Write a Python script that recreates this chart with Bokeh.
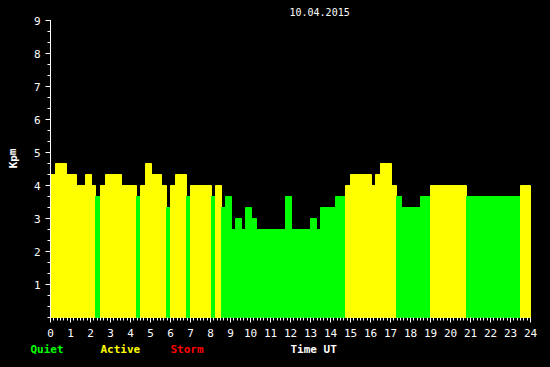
from bokeh.plotting import figure
from bokeh.models import FixedTicker, Label, Range1d, LinearAxis
from bokeh.embed import file_html
from bokeh.resources import INLINE

# Start time (hours UT) of each interval and its Kpm value; last edge closes the day
starts = [0.00, 0.25, 0.80, 1.30, 1.75, 2.05, 2.25, 2.50, 2.75, 3.55,
          4.30, 4.50, 4.75, 5.05, 5.55, 5.80, 6.00, 6.25, 6.80, 7.00,
          8.05, 8.25, 8.55, 8.75, 9.05, 9.25, 9.55, 9.75, 10.05, 10.30,
          11.75, 12.05, 13.00, 13.30, 13.50, 14.25, 14.75, 15.00, 16.05, 16.25,
          16.50, 17.05, 17.30, 17.55, 18.50, 19.00, 20.80, 23.50]
end_time = 24.0
kpm = [4.333, 4.667, 4.333, 4.0, 4.333, 4.0, 3.667, 4.0, 4.333, 4.0,
       3.667, 4.0, 4.667, 4.333, 4.0, 3.333, 4.0, 4.333, 3.667, 4.0,
       3.667, 4.0, 3.333, 3.667, 2.667, 3.0, 2.667, 3.333, 3.0, 2.667,
       3.667, 2.667, 3.0, 2.667, 3.333, 3.667, 4.0, 4.333, 4.0, 4.333,
       4.667, 4.0, 3.667, 3.333, 3.667, 4.0, 3.667, 4.0]
x_ticks = list(range(0, 25))
y_ticks = list(range(1, 10))
title_text = "10.04.2015"
legend_names = ["Quiet", "Active", "Storm"]

QUIET, ACTIVE, STORM = "#00ff00", "#ffff00", "#ff0000"

lefts = starts
rights = starts[1:] + [end_time]
colors = [QUIET if v < 4 else (ACTIVE if v < 5 else STORM) for v in kpm]

# the frame spans the whole canvas; axes are pinned at x=0 / y=0
p = figure(width=550, height=367, output_backend="svg", toolbar_location=None,
           x_range=Range1d(-2.5, 25), y_range=Range1d(-50 / 33, 317 / 33),
           x_axis_location=None, y_axis_location=None,
           min_border=0)
p.background_fill_color = "black"
p.border_fill_color = "black"
p.outline_line_color = None
p.grid.visible = False
p.styles = {"background-color": "black"}

p.quad(left=lefts, right=rights, top=kpm, bottom=0, fill_color=colors,
       line_color=colors, line_width=1)

font = "DejaVu Sans Mono"
xaxis = LinearAxis(fixed_location=0, bounds=(0, 24))
yaxis = LinearAxis(fixed_location=0, bounds=(0, 9))
p.add_layout(xaxis, "below")
p.add_layout(yaxis, "left")
for ax in (xaxis, yaxis):
    ax.major_tick_in = 0
    ax.minor_tick_in = 0
    ax.major_tick_out = 5
    ax.minor_tick_out = 3
    ax.major_tick_line_color = "white"
    ax.minor_tick_line_color = "white"
    ax.major_label_text_color = "white"
    ax.major_label_text_font = font
    ax.major_label_text_font_size = "11px"

xaxis.ticker = FixedTicker(ticks=x_ticks, minor_ticks=[i / 6 for i in range(0, 24 * 6 + 1)])
yaxis.ticker = FixedTicker(ticks=y_ticks, minor_ticks=[i / 3 for i in range(0, 28)])
xaxis.axis_line_color = None
yaxis.axis_line_color = "white"
xaxis.major_label_standoff = 6
yaxis.major_label_standoff = 5

def lab(x, y, text, color, size="11px", bold=True, align="left", angle=0):
    p.add_layout(Label(x=x, y=y, text=text, text_color=color, text_font=font,
                       text_font_size=size, text_font_style="bold" if bold else "normal",
                       text_align=align, text_baseline="middle", angle=angle))

lab(-1.0, -0.955, legend_names[0], QUIET)
lab(2.5, -0.955, legend_names[1], ACTIVE)
lab(6.0, -0.955, legend_names[2], STORM)
lab(12.0, -0.955, "Time UT", "white")
lab(11.95, 9.26, title_text, "white", size="10px", bold=False)
lab(-1.875, 4.82, "Kpm", "white", align="center", angle=1.5708)

open("out.html", "w").write(file_html(p, INLINE))
